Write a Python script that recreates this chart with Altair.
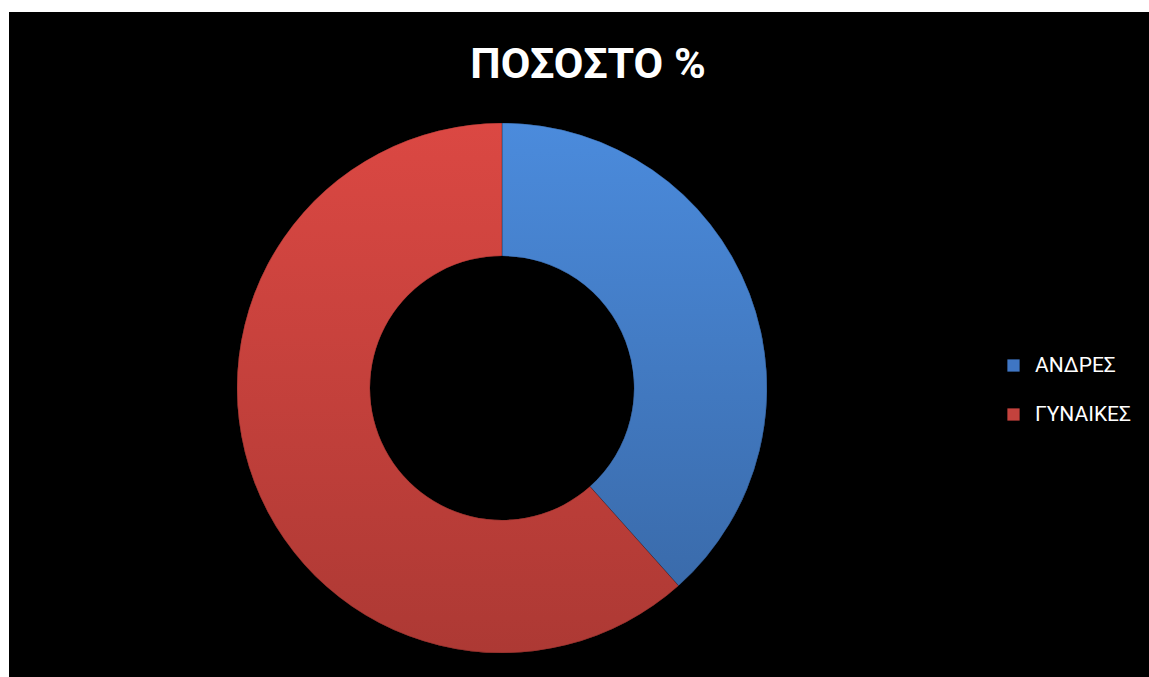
import altair as alt
import pandas as pd

# Share of respondents by sex (percent)
groups = ["ΑΝΔΡΕΣ", "ΓΥΝΑΙΚΕΣ"]
shares = [38.4, 61.6]
legend_colors = ["#3f76c4", "#c4423d"]
title_text = "ΠΟΣΟΣΤΟ %"

df = pd.DataFrame({"group": groups, "share": shares, "rank": list(range(len(groups)))})

W, H = 1149, 677
CX, CY = 502, 388
R_OUT, R_IN = 265, 132


def shade(top, bottom):
    return alt.LinearGradient(
        gradient="linear",
        x1=0, y1=0, x2=0, y2=1,
        stops=[alt.GradientStop(color=top, offset=0),
               alt.GradientStop(color=bottom, offset=1)],
    )


blue_fill = shade("#4b8bdc", "#3a6bab")
red_fill = shade("#db4843", "#ad3934")

# black panel behind the chart
frame = alt.Chart(df.head(1)).mark_rect(color="black").encode(
    x=alt.value(9), x2=alt.value(W), y=alt.value(12), y2=alt.value(H)
)

theta = alt.Theta("share:Q", stack=True)
order = alt.Order("rank:O")

# flat ring, carries the legend
ring = alt.Chart(df).mark_arc(radius=R_OUT, radius2=R_IN).encode(
    theta=theta,
    order=order,
    x=alt.value(CX),
    y=alt.value(CY),
    color=alt.Color(
        "group:N",
        scale=alt.Scale(domain=groups, range=legend_colors),
        legend=alt.Legend(
            orient="none", legendX=1003, legendY=355, title=None,
            symbolType="square", symbolSize=150, symbolStrokeWidth=0,
            labelColor="white", labelFont="Roboto", labelFontSize=21,
            rowPadding=27, labelOffset=11,
        ),
    ),
)

# shaded ring on top
shaded = alt.Chart(df).mark_arc(
    radius=R_OUT, radius2=R_IN, stroke="#000000", strokeOpacity=0.25, strokeWidth=1
).encode(
    theta=theta,
    order=order,
    x=alt.value(CX),
    y=alt.value(CY),
    fill=alt.condition(alt.datum.group == groups[0], alt.value(blue_fill), alt.value(red_fill)),
)

title = alt.Chart(pd.DataFrame({"t": [title_text]})).mark_text(
    font="Roboto", fontWeight="bold", fontSize=43, color="white",
    align="center", baseline="alphabetic",
).encode(x=alt.value(588), y=alt.value(78), text="t:N")

chart = alt.layer(frame, ring, shaded, title).properties(
    width=W, height=H, padding=0, autosize=alt.AutoSizeParams(type="none"),
    background="white",
).configure_view(stroke=None)

chart.save("out.html", embed_options={"renderer": "svg", "actions": False})
